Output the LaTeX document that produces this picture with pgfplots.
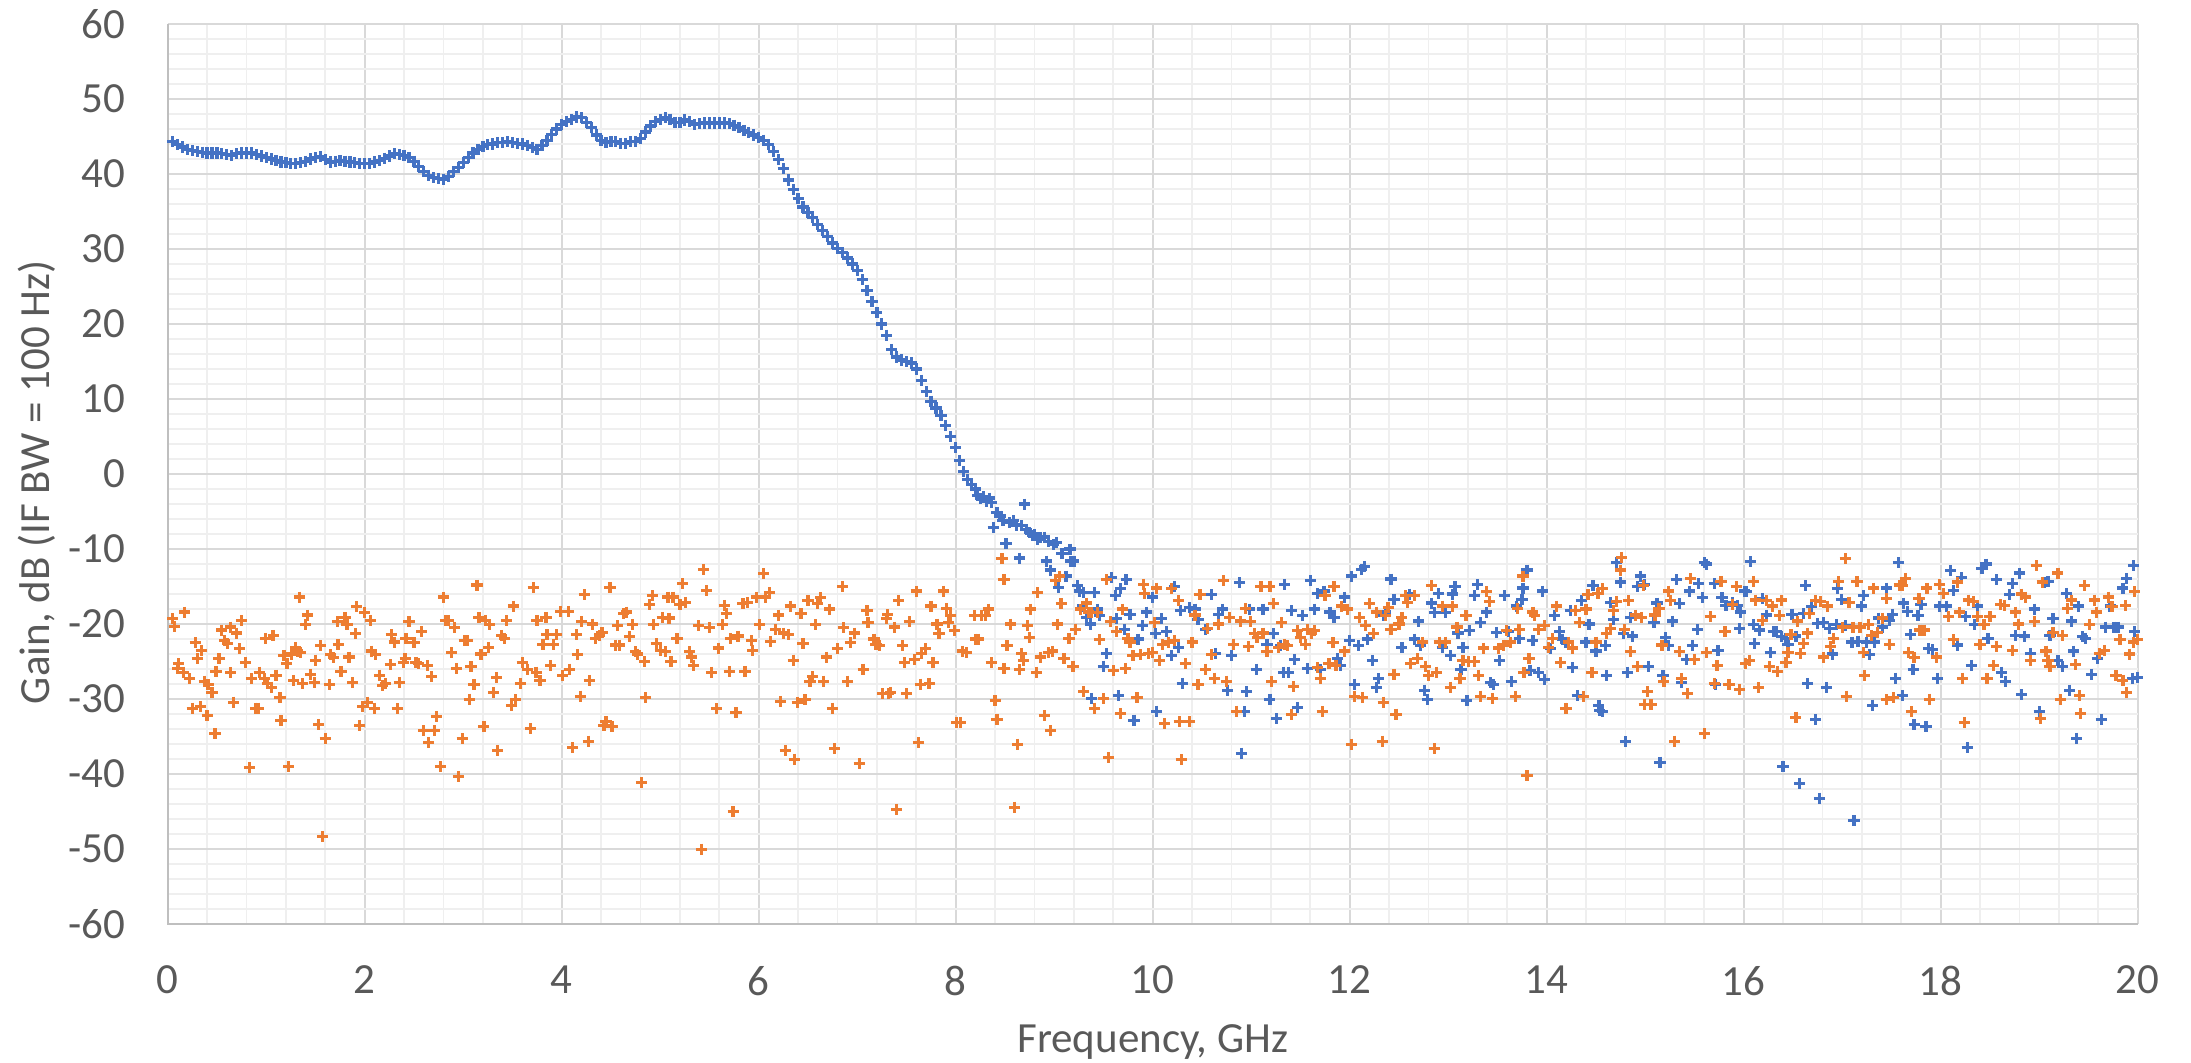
\documentclass[border=0pt]{standalone}
\usepackage{pgfplots}
\usepackage{pgfplotstable}
\pgfplotsset{compat=1.18}
\usepackage{fontspec}
\setmainfont{Carlito}
\definecolor{xlblue}{HTML}{4472C4}
\definecolor{xlorange}{HTML}{ED7D31}
\definecolor{majgrid}{HTML}{D9D9D9}
\definecolor{mingrid}{HTML}{EFEFEF}
\definecolor{labgray}{HTML}{595959}
\definecolor{axgray}{HTML}{BFBFBF}

\pgfplotstableread{
f g
0.05 44.3
0.10 43.9
0.15 43.6
0.20 43.3
0.25 43.1
0.30 43.0
0.35 42.9
0.40 42.8
0.45 42.8
0.50 42.8
0.55 42.7
0.60 42.6
0.65 42.5
0.70 42.7
0.75 42.8
0.80 42.8
0.85 42.8
0.90 42.6
0.95 42.4
1.00 42.2
1.05 42.0
1.10 41.8
1.15 41.6
1.20 41.5
1.25 41.4
1.30 41.4
1.35 41.5
1.40 41.7
1.45 42.0
1.50 42.2
1.55 42.3
1.60 41.9
1.65 41.6
1.70 41.7
1.75 41.8
1.80 41.7
1.85 41.6
1.90 41.5
1.95 41.4
2.00 41.4
2.05 41.4
2.10 41.6
2.15 41.8
2.20 42.1
2.25 42.4
2.30 42.7
2.35 42.6
2.40 42.5
2.45 42.2
2.50 41.7
2.55 41.0
2.60 40.3
2.65 39.8
2.70 39.5
2.75 39.4
2.80 39.3
2.85 39.7
2.90 40.3
2.95 40.9
3.00 41.5
3.05 42.2
3.10 42.8
3.15 43.3
3.20 43.7
3.25 43.9
3.30 44.0
3.35 44.2
3.40 44.2
3.45 44.3
3.50 44.2
3.55 44.1
3.60 44.0
3.65 43.8
3.70 43.5
3.75 43.3
3.80 43.8
3.85 44.5
3.90 45.3
3.95 46.0
4.00 46.6
4.05 47.0
4.10 47.3
4.15 47.6
4.20 47.5
4.25 46.9
4.30 46.2
4.35 45.2
4.40 44.5
4.45 44.2
4.50 44.3
4.55 44.3
4.60 44.1
4.65 44.1
4.70 44.3
4.75 44.3
4.80 44.7
4.85 45.6
4.90 46.4
4.95 47.0
5.00 47.3
5.05 47.5
5.10 47.3
5.15 46.9
5.20 46.9
5.25 47.2
5.30 47.0
5.35 46.6
5.40 46.7
5.45 46.8
5.50 46.8
5.55 46.8
5.60 46.8
5.65 46.8
5.70 46.7
5.75 46.5
5.80 46.2
5.85 45.8
5.90 45.5
5.95 45.2
6.00 44.9
6.05 44.5
6.10 43.9
6.15 43.0
6.20 41.9
6.25 40.7
6.30 39.2
6.35 37.9
6.40 36.7
6.45 35.6
6.50 34.9
6.55 34.2
6.60 33.3
6.65 32.5
6.70 31.7
6.75 30.8
6.80 30.1
6.85 29.5
6.90 28.8
6.95 28.0
7.00 27.1
7.05 25.9
7.10 24.5
7.15 23.0
7.20 21.5
7.25 20.0
7.30 18.5
7.35 16.6
7.40 15.6
7.45 15.2
7.50 15.0
7.55 14.8
7.60 14.0
7.65 12.5
7.70 11.0
7.75 9.7
7.80 8.8
7.85 7.8
7.90 6.5
7.95 5.0
8.00 3.5
8.04 1.8
8.08 0.3
8.12 -0.7
8.16 -1.4
8.20 -2.0
8.22 -2.9
8.25 -3.3
8.28 -3.0
8.31 -3.6
8.34 -3.2
8.36 -3.8
8.38 -7.1
8.42 -5.1
8.45 -5.6
8.48 -6.2
8.51 -9.3
8.55 -6.5
8.59 -6.2
8.62 -6.8
8.65 -11.2
8.67 -6.9
8.70 -4.0
8.72 -7.4
8.75 -7.8
8.78 -8.2
8.80 -8.0
8.83 -8.7
8.86 -8.5
8.90 -8.4
8.92 -11.6
8.94 -9.0
8.96 -12.8
8.99 -9.4
9.02 -9.1
9.04 -15.1
9.08 -10.6
9.12 -13.6
9.16 -10.0
9.17 -11.6
9.20 -11.6
9.24 -14.9
9.26 -15.6
9.29 -17.6
9.30 -15.8
9.33 -19.1
9.37 -20.0
9.38 -29.9
9.41 -15.8
9.44 -18.0
9.46 -18.9
9.50 -25.6
9.53 -23.9
9.58 -13.8
9.62 -16.2
9.63 -19.3
9.65 -29.5
9.67 -15.3
9.71 -20.7
9.73 -14.1
9.77 -18.7
9.81 -32.8
9.85 -22.0
9.90 -20.2
9.94 -18.4
10.00 -16.4
10.03 -21.3
10.04 -31.6
10.09 -19.3
10.14 -21.0
10.19 -24.2
10.22 -15.0
10.26 -23.1
10.28 -18.2
10.30 -27.9
10.37 -17.8
10.43 -18.0
10.46 -19.4
10.54 -20.7
10.60 -16.1
10.64 -23.9
10.67 -18.7
10.71 -18.0
10.76 -28.8
10.80 -24.2
10.88 -14.5
10.90 -37.2
10.93 -31.7
10.95 -29.0
10.98 -18.0
11.05 -26.0
11.12 -18.0
11.16 -22.7
11.19 -30.0
11.23 -21.3
11.26 -32.6
11.30 -22.9
11.33 -26.4
11.34 -14.7
11.38 -26.4
11.41 -18.2
11.44 -24.7
11.47 -31.1
11.52 -18.9
11.57 -25.9
11.60 -14.2
11.64 -18.0
11.67 -15.9
11.70 -26.1
11.74 -15.6
11.80 -18.4
11.84 -19.1
11.88 -24.6
11.91 -25.5
11.95 -16.4
12.00 -22.2
12.02 -13.6
12.05 -28.0
12.09 -22.9
12.12 -12.7
12.15 -12.3
12.18 -22.0
12.23 -24.9
12.27 -28.4
12.29 -27.3
12.34 -18.9
12.36 -18.4
12.42 -14.0
12.45 -16.7
12.53 -23.1
12.61 -16.0
12.66 -22.0
12.70 -19.6
12.72 -22.9
12.76 -28.8
12.79 -30.1
12.83 -17.2
12.86 -18.5
12.90 -15.9
12.94 -23.1
12.97 -18.5
13.02 -24.2
13.04 -16.0
13.07 -15.0
13.10 -21.2
13.13 -26.0
13.15 -23.1
13.19 -30.2
13.22 -20.9
13.27 -16.2
13.30 -14.7
13.33 -19.8
13.39 -18.4
13.43 -27.8
13.46 -28.1
13.49 -21.1
13.52 -24.9
13.57 -16.2
13.61 -21.0
13.64 -27.7
13.69 -17.6
13.72 -21.9
13.75 -16.7
13.76 -15.2
13.80 -12.8
13.83 -26.2
13.86 -22.2
13.92 -26.5
13.96 -15.6
13.98 -27.4
14.04 -23.3
14.08 -18.9
14.13 -21.0
14.16 -22.0
14.19 -22.4
14.24 -18.2
14.26 -25.8
14.31 -29.5
14.35 -16.9
14.40 -22.4
14.43 -20.0
14.47 -14.9
14.50 -23.6
14.53 -30.9
14.54 -31.5
14.57 -31.6
14.60 -22.9
14.61 -26.9
14.65 -17.1
14.68 -19.4
14.71 -11.8
14.75 -14.4
14.78 -21.3
14.80 -35.7
14.82 -26.4
14.85 -19.1
14.87 -21.6
14.92 -15.0
14.95 -13.6
14.99 -14.7
15.03 -25.6
15.09 -19.8
15.12 -17.2
15.15 -38.4
15.18 -26.9
15.21 -21.8
15.24 -22.9
15.28 -19.6
15.32 -14.1
15.35 -17.3
15.37 -27.8
15.42 -24.7
15.45 -15.6
15.48 -22.9
15.53 -20.7
15.54 -14.6
15.58 -16.5
15.60 -11.8
15.62 -12.0
15.70 -14.6
15.71 -28.1
15.74 -23.5
15.78 -16.5
15.82 -17.5
15.89 -17.1
15.94 -17.5
15.96 -20.6
15.97 -18.4
16.01 -15.6
16.03 -15.7
16.07 -11.7
16.10 -20.1
16.11 -22.6
16.16 -20.8
16.19 -16.6
16.23 -18.8
16.27 -23.8
16.30 -21.0
16.33 -21.0
16.38 -21.7
16.40 -39.0
16.43 -21.9
16.45 -22.7
16.49 -18.7
16.53 -21.6
16.57 -41.2
16.61 -18.6
16.63 -14.9
16.65 -27.9
16.69 -17.7
16.73 -32.7
16.75 -19.9
16.77 -43.2
16.81 -19.8
16.84 -28.5
16.87 -20.6
16.90 -24.0
16.94 -20.1
16.95 -15.3
16.99 -16.7
17.03 -20.2
17.10 -22.4
17.12 -46.2
17.16 -22.3
17.20 -17.6
17.22 -16.2
17.25 -22.4
17.28 -24.1
17.31 -30.8
17.33 -22.4
17.37 -19.2
17.41 -20.4
17.45 -15.2
17.48 -19.5
17.51 -18.7
17.54 -27.2
17.57 -11.8
17.61 -29.5
17.62 -17.2
17.66 -18.3
17.69 -21.4
17.72 -26.0
17.73 -33.4
17.77 -18.9
17.80 -17.4
17.85 -33.7
17.88 -23.3
17.92 -23.4
17.97 -27.2
17.99 -17.6
18.06 -17.6
18.10 -12.9
18.13 -15.5
18.17 -22.8
18.21 -13.8
18.25 -19.0
18.27 -36.5
18.31 -25.5
18.34 -20.1
18.37 -17.6
18.42 -12.6
18.46 -12.0
18.48 -21.9
18.57 -14.1
18.62 -26.4
18.66 -27.6
18.70 -16.1
18.73 -14.6
18.76 -21.5
18.80 -13.2
18.82 -29.4
18.85 -21.6
18.91 -23.9
18.95 -18.0
19.00 -31.7
19.05 -14.4
19.09 -14.3
19.11 -21.5
19.14 -19.3
19.19 -24.9
19.24 -25.7
19.28 -15.9
19.31 -28.8
19.33 -19.6
19.35 -23.6
19.38 -35.2
19.40 -17.6
19.44 -21.7
19.47 -21.9
19.53 -26.7
19.59 -24.6
19.63 -32.7
19.67 -20.4
19.72 -17.6
19.76 -20.4
19.80 -20.4
19.85 -15.2
19.89 -13.9
19.95 -27.2
19.96 -12.2
19.97 -21.0
20.00 -27.1
}\bluedata

\pgfplotstableread{
f g
0.05 -19.3
0.07 -20.3
0.10 -25.9
0.11 -25.3
0.16 -26.4
0.17 -18.4
0.22 -27.3
0.25 -31.2
0.28 -22.5
0.30 -24.6
0.33 -31.0
0.34 -23.5
0.37 -27.6
0.40 -32.2
0.41 -28.1
0.45 -29.1
0.48 -34.6
0.49 -26.3
0.52 -24.6
0.55 -20.8
0.58 -22.2
0.61 -22.6
0.64 -20.4
0.64 -26.5
0.67 -30.4
0.70 -21.2
0.73 -23.3
0.75 -19.5
0.79 -25.1
0.83 -39.1
0.85 -27.3
0.89 -31.2
0.92 -31.2
0.93 -26.4
0.98 -27.3
0.99 -21.9
1.01 -27.9
1.05 -28.4
1.07 -21.5
1.10 -26.8
1.14 -29.8
1.15 -32.9
1.18 -24.2
1.21 -25.3
1.23 -39.0
1.26 -24.0
1.28 -27.5
1.30 -23.1
1.32 -23.6
1.34 -16.4
1.35 -23.8
1.37 -27.9
1.40 -20.1
1.42 -18.8
1.45 -26.7
1.49 -27.8
1.50 -24.8
1.53 -33.4
1.55 -22.9
1.57 -48.3
1.60 -35.2
1.64 -28.1
1.65 -24.1
1.68 -24.5
1.72 -19.7
1.73 -22.7
1.76 -26.3
1.80 -19.1
1.82 -20.1
1.84 -24.4
1.88 -27.8
1.91 -21.3
1.92 -17.7
1.95 -33.5
1.98 -31.0
2.00 -18.5
2.03 -30.4
2.06 -19.5
2.07 -23.6
2.10 -31.2
2.11 -24.1
2.15 -26.8
2.18 -28.2
2.21 -27.9
2.26 -25.4
2.27 -21.4
2.30 -22.4
2.33 -31.3
2.35 -27.8
2.39 -25.1
2.41 -24.6
2.42 -21.9
2.45 -19.7
2.50 -22.5
2.52 -25.1
2.55 -25.3
2.58 -21.0
2.60 -34.2
2.64 -25.5
2.65 -35.8
2.68 -27.0
2.71 -34.2
2.73 -32.3
2.77 -39.0
2.80 -16.4
2.82 -19.5
2.85 -19.5
2.88 -23.8
2.91 -20.5
2.93 -25.9
2.95 -40.3
2.99 -35.3
3.01 -22.2
3.04 -22.2
3.06 -30.0
3.08 -25.7
3.11 -28.1
3.14 -14.8
3.16 -19.1
3.18 -24.0
3.21 -33.7
3.23 -19.5
3.26 -23.1
3.27 -20.1
3.31 -29.1
3.34 -27.1
3.35 -36.9
3.39 -21.5
3.42 -21.9
3.44 -19.5
3.49 -30.8
3.51 -17.6
3.53 -30.1
3.58 -27.9
3.60 -25.1
3.65 -26.0
3.68 -33.9
3.71 -15.1
3.74 -26.4
3.75 -19.5
3.78 -27.5
3.81 -22.7
3.84 -19.1
3.85 -21.4
3.89 -25.5
3.92 -22.7
3.95 -21.4
3.99 -18.3
4.01 -26.8
4.07 -18.3
4.08 -26.0
4.11 -36.5
4.15 -21.4
4.16 -24.1
4.19 -29.6
4.20 -19.7
4.23 -16.1
4.27 -35.6
4.28 -27.5
4.31 -20.0
4.34 -21.9
4.38 -21.5
4.41 -21.1
4.43 -33.5
4.45 -33.0
4.49 -15.1
4.51 -33.7
4.55 -22.8
4.57 -20.2
4.59 -22.8
4.63 -18.6
4.66 -18.4
4.69 -21.7
4.72 -20.1
4.75 -23.7
4.77 -24.0
4.81 -41.1
4.84 -25.0
4.85 -29.8
4.89 -17.4
4.92 -16.2
4.93 -20.1
4.96 -22.6
5.00 -23.5
5.02 -19.1
5.05 -23.7
5.08 -16.4
5.09 -19.2
5.11 -25.0
5.13 -16.4
5.17 -21.9
5.20 -17.4
5.23 -14.6
5.26 -17.1
5.30 -23.7
5.32 -24.4
5.34 -25.5
5.39 -20.2
5.42 -50.0
5.44 -12.7
5.47 -15.5
5.50 -20.5
5.52 -26.4
5.57 -31.3
5.59 -23.2
5.63 -20.1
5.65 -17.5
5.67 -18.6
5.70 -26.3
5.71 -21.9
5.74 -45.0
5.77 -31.8
5.79 -21.6
5.84 -17.3
5.86 -26.3
5.89 -17.1
5.93 -22.2
5.94 -23.5
5.98 -16.4
6.01 -20.1
6.05 -13.3
6.07 -16.4
6.11 -15.8
6.12 -22.3
6.17 -20.7
6.20 -18.8
6.22 -30.3
6.25 -21.2
6.27 -36.9
6.30 -21.4
6.32 -17.6
6.35 -24.8
6.36 -38.0
6.39 -30.4
6.43 -18.6
6.45 -22.6
6.47 -30.1
6.50 -16.9
6.52 -27.6
6.55 -27.0
6.58 -20.1
6.60 -17.3
6.63 -16.5
6.66 -27.6
6.69 -24.4
6.72 -18.0
6.75 -31.2
6.77 -36.6
6.80 -23.3
6.85 -15.0
6.86 -20.5
6.90 -27.6
6.93 -22.5
6.97 -21.2
7.02 -38.6
7.06 -26.0
7.10 -18.2
7.11 -19.8
7.17 -22.0
7.19 -22.7
7.23 -22.9
7.26 -29.3
7.30 -19.3
7.31 -18.7
7.32 -29.3
7.34 -29.1
7.38 -20.4
7.40 -44.7
7.42 -16.9
7.46 -22.9
7.48 -25.1
7.50 -29.3
7.53 -19.7
7.58 -24.7
7.60 -15.6
7.62 -35.8
7.64 -28.0
7.65 -23.9
7.69 -23.3
7.73 -27.9
7.75 -17.6
7.77 -25.1
7.81 -20.0
7.83 -21.3
7.88 -15.6
7.91 -17.9
7.93 -19.8
7.95 -18.9
7.99 -20.9
8.01 -33.1
8.05 -33.1
8.07 -23.6
8.11 -23.8
8.19 -18.9
8.20 -22.0
8.23 -22.0
8.26 -18.9
8.30 -18.9
8.33 -18.0
8.36 -25.1
8.40 -30.2
8.42 -32.7
8.47 -11.3
8.49 -14.1
8.49 -25.9
8.52 -22.9
8.56 -20.0
8.60 -44.4
8.63 -36.0
8.65 -26.1
8.67 -23.9
8.69 -24.9
8.73 -20.2
8.75 -21.8
8.76 -18.0
8.82 -26.4
8.83 -15.8
8.86 -24.4
8.90 -32.2
8.94 -23.8
8.96 -34.2
8.98 -23.6
9.01 -14.2
9.03 -20.0
9.05 -13.6
9.07 -17.3
9.10 -24.6
9.15 -21.9
9.19 -25.6
9.22 -20.7
9.27 -18.0
9.30 -29.0
9.33 -17.2
9.35 -18.4
9.38 -18.5
9.41 -31.2
9.44 -18.5
9.46 -22.1
9.50 -29.9
9.53 -14.1
9.55 -37.8
9.57 -19.7
9.60 -26.2
9.63 -21.0
9.67 -31.9
9.69 -18.0
9.72 -25.9
9.75 -21.9
9.77 -22.4
9.80 -24.2
9.84 -29.8
9.88 -24.1
9.91 -14.7
9.92 -15.9
9.96 -23.9
10.00 -23.8
10.02 -19.8
10.04 -15.2
10.07 -24.8
10.10 -22.7
10.12 -33.3
10.16 -22.4
10.19 -15.3
10.22 -22.2
10.26 -16.9
10.27 -33.0
10.29 -38.1
10.33 -25.3
10.37 -33.0
10.40 -22.4
10.43 -18.8
10.46 -28.0
10.48 -16.1
10.54 -26.0
10.56 -20.6
10.60 -24.1
10.63 -27.2
10.67 -20.0
10.72 -14.2
10.75 -27.6
10.78 -19.1
10.82 -22.7
10.85 -31.6
10.89 -19.6
10.94 -17.9
10.97 -23.0
10.99 -19.7
11.03 -21.3
11.06 -21.8
11.10 -15.0
11.12 -21.2
11.16 -23.7
11.19 -15.0
11.21 -27.7
11.23 -17.3
11.28 -23.1
11.31 -19.8
11.34 -22.7
11.37 -22.9
11.41 -32.0
11.43 -28.3
11.47 -20.9
11.50 -21.8
11.55 -22.7
11.57 -20.7
11.61 -21.3
11.64 -20.9
11.67 -25.8
11.70 -27.3
11.72 -31.7
11.75 -16.2
11.79 -25.3
11.83 -22.5
11.84 -15.0
11.86 -25.5
11.92 -17.6
11.95 -23.6
11.98 -18.0
12.02 -36.0
12.05 -29.6
12.10 -19.1
12.13 -29.8
12.16 -20.2
12.20 -17.3
12.24 -21.3
12.27 -18.4
12.33 -35.6
12.34 -30.4
12.36 -18.9
12.39 -17.8
12.42 -20.7
12.45 -26.7
12.47 -32.0
12.50 -20.0
12.53 -19.1
12.57 -16.2
12.59 -17.1
12.62 -25.3
12.66 -16.2
12.69 -24.6
12.74 -22.4
12.77 -25.6
12.80 -26.9
12.83 -14.9
12.86 -36.6
12.88 -26.4
12.91 -22.4
12.94 -17.6
12.97 -22.4
13.02 -28.4
13.04 -17.6
13.09 -20.4
13.12 -27.3
13.15 -24.9
13.18 -18.9
13.21 -25.0
13.27 -25.0
13.31 -26.8
13.33 -29.6
13.36 -23.2
13.39 -15.7
13.42 -17.0
13.45 -29.9
13.51 -23.2
13.56 -22.8
13.59 -20.9
13.63 -22.4
13.68 -29.6
13.70 -17.9
13.72 -20.7
13.76 -13.6
13.77 -26.5
13.80 -40.2
13.82 -24.6
13.86 -18.4
13.88 -18.9
13.92 -20.7
13.98 -20.2
14.02 -23.1
14.06 -21.9
14.10 -17.6
14.14 -25.1
14.19 -31.2
14.20 -31.3
14.22 -22.4
14.26 -23.2
14.29 -18.2
14.33 -19.8
14.37 -29.6
14.40 -18.0
14.42 -16.1
14.46 -26.4
14.50 -22.4
14.52 -15.9
14.57 -15.3
14.61 -21.3
14.65 -20.6
14.68 -18.2
14.71 -17.0
14.75 -12.8
14.76 -11.1
14.79 -20.7
14.83 -16.9
14.85 -23.7
14.90 -18.8
14.92 -25.6
14.96 -19.1
14.98 -14.9
14.99 -30.7
15.02 -29.0
15.06 -30.7
15.10 -18.8
15.14 -17.9
15.17 -22.8
15.19 -27.6
15.24 -15.6
15.26 -16.9
15.30 -35.6
15.35 -23.7
15.37 -27.3
15.43 -29.2
15.46 -13.9
15.50 -24.7
15.60 -34.6
15.62 -23.8
15.66 -19.0
15.70 -27.9
15.73 -25.5
15.77 -14.3
15.81 -21.0
15.85 -28.1
15.89 -17.4
15.93 -15.0
15.96 -28.7
16.02 -25.2
16.06 -24.8
16.10 -14.3
16.12 -16.8
16.15 -28.5
16.19 -19.5
16.23 -16.9
16.26 -25.7
16.29 -17.6
16.34 -26.3
16.36 -18.9
16.38 -16.8
16.43 -25.1
16.45 -23.8
16.48 -21.4
16.53 -32.4
16.55 -19.6
16.58 -23.9
16.61 -22.6
16.65 -21.2
16.67 -18.6
16.73 -16.9
16.78 -17.0
16.81 -24.4
16.85 -17.6
16.88 -23.0
16.91 -21.9
16.96 -14.3
17.00 -20.4
17.03 -11.3
17.04 -29.6
17.07 -17.1
17.11 -20.4
17.15 -14.3
17.18 -20.4
17.22 -23.8
17.23 -26.9
17.27 -20.1
17.30 -21.5
17.32 -15.2
17.36 -21.1
17.41 -19.2
17.45 -16.6
17.45 -30.1
17.48 -22.7
17.52 -29.8
17.58 -14.8
17.61 -14.9
17.64 -13.9
17.67 -23.8
17.70 -31.7
17.73 -24.5
17.78 -16.6
17.79 -20.8
17.83 -20.8
17.86 -15.2
17.89 -30.0
17.96 -24.4
17.99 -14.7
18.03 -15.9
18.08 -19.0
18.13 -22.1
18.17 -14.4
18.19 -18.4
18.22 -27.2
18.24 -33.1
18.28 -16.8
18.33 -17.0
18.37 -19.0
18.40 -22.7
18.44 -20.1
18.47 -27.3
18.50 -19.0
18.54 -25.5
18.57 -23.0
18.61 -17.4
18.65 -17.5
18.73 -23.5
18.76 -18.4
18.79 -20.0
18.82 -16.0
18.86 -16.4
18.91 -24.8
18.95 -19.7
18.97 -12.2
19.01 -32.6
19.03 -14.4
19.07 -23.6
19.09 -24.8
19.11 -25.7
19.14 -21.1
19.19 -13.2
19.22 -30.1
19.24 -21.5
19.29 -17.9
19.33 -16.8
19.37 -25.4
19.41 -29.5
19.42 -31.9
19.46 -14.9
19.51 -20.1
19.56 -16.8
19.58 -18.4
19.61 -23.9
19.66 -23.5
19.70 -16.4
19.74 -17.7
19.78 -26.9
19.82 -22.1
19.85 -27.5
19.88 -17.5
19.89 -29.1
19.92 -24.0
19.96 -22.4
19.97 -15.7
20.00 -22.1
}\orangedata

\begin{document}
\begin{tikzpicture}
\useasboundingbox (0,0) rectangle (509.5pt,247pt);
\begin{axis}[
  at={(39pt,32.1pt)}, anchor=south west,
  scale only axis, width=458.1pt, height=209.3pt,
  xmin=0, xmax=20, ymin=-60, ymax=60,
  xtick={0,2,...,20}, ytick={-60,-50,...,60},
  minor x tick num=4, minor y tick num=4,
  grid=both,
  major grid style={draw=majgrid, line width=0.45pt},
  minor grid style={draw=mingrid, line width=0.45pt},
  major tick length=0pt, minor tick length=0pt,
  axis line style={draw=none},
  clip=false,
  /pgf/number format/assume math mode=true,
  tick label style={font=\fontsize{10}{12}\selectfont, text=labgray},
  xticklabel style={yshift=-6.2pt},
  yticklabel style={xshift=-6.4pt},
  xlabel={Frequency, GHz},
  ylabel={Gain, dB (IF BW = 100 Hz)},
  label style={font=\fontsize{10}{12}\selectfont, text=labgray},
  xlabel style={at={(axis description cs:0.5,-0.1424)}, anchor=base},
  ylabel style={at={(axis description cs:-0.0598,0.491)}, anchor=base},
]
\addplot[only marks, mark=+, mark size=1.3pt, mark options={line width=0.75pt}, draw=xlblue] table[x=f, y=g] {\bluedata};
\addplot[only marks, mark=+, mark size=1.3pt, mark options={line width=0.75pt}, draw=xlorange] table[x=f, y=g] {\orangedata};
\draw[axgray, line width=0.5pt] (rel axis cs:0,1) -- (rel axis cs:0,0) -- (rel axis cs:1,0);
\end{axis}
\end{tikzpicture}
\end{document}
